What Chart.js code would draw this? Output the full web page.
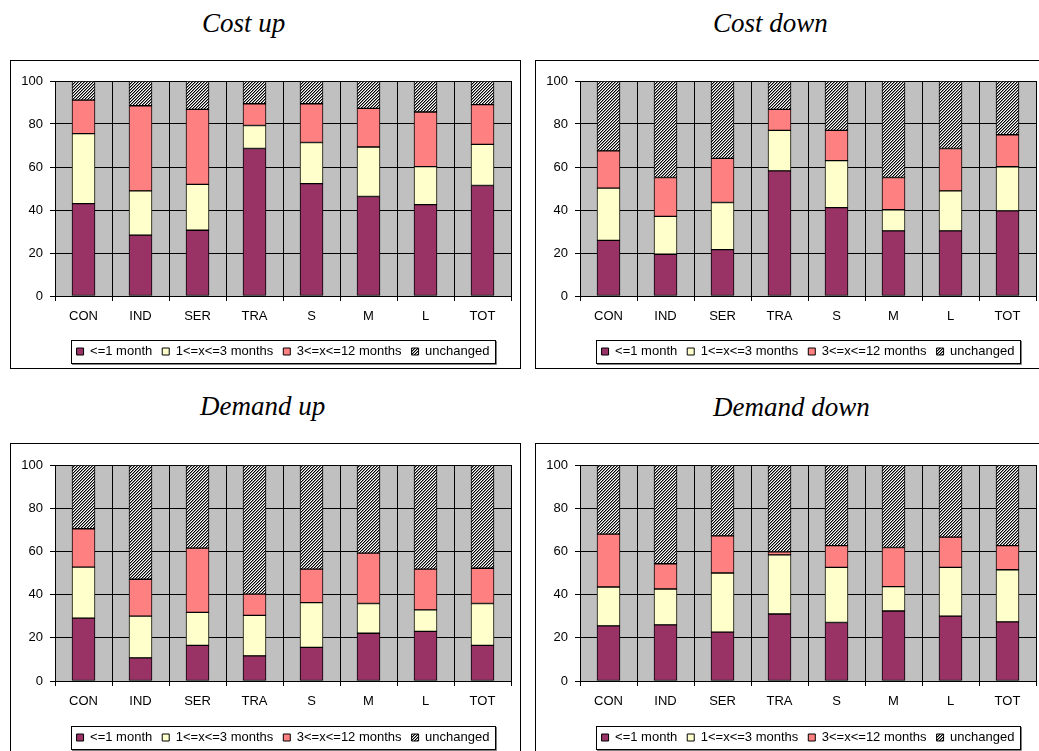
<!DOCTYPE html>
<html>
<head>
<meta charset="utf-8">
<script src="https://cdn.jsdelivr.net/npm/chart.js@4.4.3/dist/chart.umd.min.js"></script>
<style>
  html, body { margin: 0; padding: 0; background: #fff; width: 1039px; height: 751px; overflow: hidden; }
  .title { position: absolute; font: italic 27px/27px "Liberation Serif", "Times New Roman", serif; color: #000; white-space: nowrap; }
  .panel { position: absolute; width: 509px; border: 1px solid #000; background: #fff; }
  .panel canvas { display: block; }
</style>
</head>
<body>
<div class="title" style="left:202px;top:10px">Cost up</div>
<div class="title" style="left:713px;top:10px">Cost down</div>
<div class="title" style="left:200px;top:393px">Demand up</div>
<div class="title" style="left:713px;top:394px">Demand down</div>

<div class="panel" style="left:10px;top:60px"><canvas id="costUp" width="509" height="307"></canvas></div>
<div class="panel" style="left:535px;top:60px"><canvas id="costDown" width="509" height="307"></canvas></div>
<div class="panel" style="left:10px;top:443px"><canvas id="demandUp" width="509" height="310"></canvas></div>
<div class="panel" style="left:535px;top:443px"><canvas id="demandDown" width="509" height="310"></canvas></div>

<script>
// ---------- data ----------
const categories = ["CON", "IND", "SER", "TRA", "S", "M", "L", "TOT"];
const seriesLabels = ["<=1 month", "1<=x<=3 months", "3<=x<=12 months", "unchanged"];
const yTicks = [0, 20, 40, 60, 80, 100];

const costUpShort = [43.0, 28.3, 30.6, 68.6, 52.3, 46.3, 42.5, 51.4];
const costUpMid   = [32.5, 20.6, 21.3, 10.7, 19.1, 23.0, 17.7, 19.1];
const costUpLong  = [15.6, 39.6, 34.9, 10.1, 18.0, 18.0, 25.4, 18.5];
const costUpSame  = [ 8.9, 11.5, 13.2, 10.6, 10.6, 12.7, 14.4, 11.0];

const costDownShort = [25.9, 19.4, 21.6, 58.2, 41.1, 30.3, 30.3, 39.6];
const costDownMid   = [24.3, 17.6, 21.9, 18.8, 21.9,  9.8, 18.6, 20.5];
const costDownLong  = [17.3, 18.1, 20.5,  9.8, 14.0, 15.0, 19.7, 14.9];
const costDownSame  = [32.5, 44.9, 36.0, 13.2, 23.0, 44.9, 31.4, 25.0];

const demandUpShort = [29.1, 10.7, 16.5, 11.6, 15.6, 22.1, 23.0, 16.5];
const demandUpMid   = [23.6, 19.3, 15.3, 18.8, 20.7, 13.8,  9.9, 19.4];
const demandUpLong  = [17.8, 17.1, 29.7,  9.8, 15.5, 23.3, 18.9, 16.3];
const demandUpSame  = [29.5, 52.9, 38.5, 59.8, 48.2, 40.8, 48.2, 47.8];

const demandDownShort = [25.5, 26.0, 22.6, 31.0, 27.1, 32.4, 30.0, 27.4];
const demandDownMid   = [18.0, 16.6, 27.4, 27.4, 25.5, 11.3, 22.6, 24.1];
const demandDownLong  = [24.5, 11.7, 17.2,  1.4, 10.1, 18.1, 14.0, 11.2];
const demandDownSame  = [32.0, 45.7, 32.8, 40.2, 37.3, 38.2, 33.4, 37.3];

// ---------- style ----------
Chart.defaults.font.family = '"Liberation Sans", Arial, sans-serif';
Chart.defaults.font.size = 13;
Chart.defaults.color = "#000";

const fills = ["#993366", "#FFFFCC", "#FF8080"];

// fine diagonal hatch for "unchanged"
function hatch(ctx) {
  const c = document.createElement("canvas");
  c.width = 3; c.height = 3;
  const g = c.getContext("2d");
  g.fillStyle = "#fff";
  g.fillRect(0, 0, 3, 3);
  for (let x = 0; x < 3; x++) {
    for (let y = 0; y < 3; y++) {
      const k = (x + y) % 3;
      if (k === 0) { g.fillStyle = "#000"; g.fillRect(x, y, 1, 1); }
      if (k === 1) { g.fillStyle = "#8a8a8a"; g.fillRect(x, y, 1, 1); }
    }
  }
  return ctx.createPattern(c, "repeat");
}

// grey plot area
const plotBg = {
  id: "plotBg",
  beforeDraw(chart) {
    const { ctx, chartArea: a } = chart;
    ctx.save();
    ctx.fillStyle = "#C0C0C0";
    ctx.fillRect(a.left, a.top, a.right - a.left, a.bottom - a.top);
    ctx.restore();
  },
};

// frame around the legend
const legendFrame = {
  id: "legendFrame",
  afterDraw(chart) {
    const boxes = chart.legend && chart.legend.legendHitBoxes;
    if (!boxes || !boxes.length) return;
    const left = Math.round(Math.min(...boxes.map((b) => b.left)) - 6);
    const right = Math.round(Math.max(...boxes.map((b) => b.left + b.width)) + 6);
    const top = Math.round(boxes[0].top - 5);
    const bottom = Math.round(boxes[0].top + boxes[0].height + 5);
    const ctx = chart.ctx;
    ctx.save();
    ctx.strokeStyle = "#808080";
    ctx.lineWidth = 1;
    ctx.beginPath();
    ctx.moveTo(right + 1.5, top + 1);
    ctx.lineTo(right + 1.5, bottom + 1.5);
    ctx.lineTo(left + 1, bottom + 1.5);
    ctx.stroke();
    ctx.strokeStyle = "#000";
    ctx.strokeRect(left + 0.5, top + 0.5, right - left, bottom - top);
    ctx.restore();
  },
};

// topPad / axisH differ a little between the upper and lower row
function drawPanel(id, series, topPad, axisH) {
  const canvas = document.getElementById(id);
  const ctx = canvas.getContext("2d");
  const bg = fills.concat([hatch(ctx)]);
  return new Chart(canvas, {
    type: "bar",
    data: {
      labels: categories,
      datasets: series.map((vals, i) => ({
        label: seriesLabels[i],
        data: vals,
        backgroundColor: bg[i],
        borderColor: "#000",
        borderWidth: 1,
        borderSkipped: false,
        stack: "all",
        barThickness: 23,
      })),
    },
    options: {
      responsive: false,
      animation: false,
      events: [],
      layout: { padding: { top: topPad, right: 9, bottom: 0, left: 0 } },
      plugins: {
        legend: {
          position: "bottom",
          fullSize: false,
          labels: { boxWidth: 7, boxHeight: 7, padding: 10, color: "#000", font: { size: 13 } },
        },
        tooltip: { enabled: false },
      },
      scales: {
        x: {
          stacked: true,
          grid: { color: "#000", offset: true, tickLength: 5 },
          border: { color: "#000" },
          ticks: { padding: 8, maxRotation: 0, autoSkip: false },
          afterFit: (s) => { s.height = axisH; },
        },
        y: {
          stacked: true,
          min: 0,
          max: 100,
          afterBuildTicks: (s) => { s.ticks = yTicks.map((v) => ({ value: v })); },
          grid: { color: "#000", tickLength: 5 },
          border: { color: "#000" },
          ticks: { padding: 7 },
          afterFit: (s) => { s.width = 44; },
        },
      },
    },
    plugins: [plotBg, legendFrame],
  });
}

drawPanel("costUp", [costUpShort, costUpMid, costUpLong, costUpSame], 20, 39);
drawPanel("costDown", [costDownShort, costDownMid, costDownLong, costDownSame], 20, 39);
drawPanel("demandUp", [demandUpShort, demandUpMid, demandUpLong, demandUpSame], 21, 40);
drawPanel("demandDown", [demandDownShort, demandDownMid, demandDownLong, demandDownSame], 21, 40);
</script>
</body>
</html>
